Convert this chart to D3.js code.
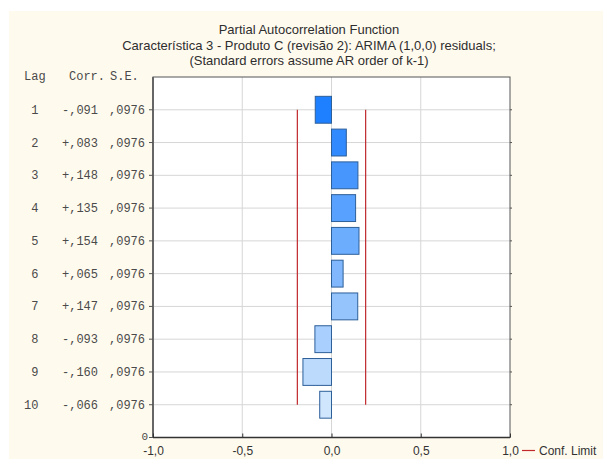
<!DOCTYPE html>
<html>
<head>
<meta charset="utf-8">
<script src="https://cdn.jsdelivr.net/npm/d3@7"></script>
<style>
  html, body { margin: 0; padding: 0; background: #ffffff; }
  svg { display: block; }
</style>
</head>
<body>
<svg id="chart" width="603" height="459"></svg>
<script>
// Partial autocorrelations of the ARIMA (1,0,0) residuals
const lags = [1, 2, 3, 4, 5, 6, 7, 8, 9, 10];
const corr = [-0.091, 0.083, 0.148, 0.135, 0.154, 0.065, 0.147, -0.093, -0.160, -0.066];
const stdErr = [0.0976, 0.0976, 0.0976, 0.0976, 0.0976, 0.0976, 0.0976, 0.0976, 0.0976, 0.0976];
const xTicks = [-1.0, -0.5, 0.0, 0.5, 1.0];
const titleLines = [
  "Partial Autocorrelation Function",
  "Característica 3 - Produto C (revisão 2): ARIMA (1,0,0) residuals;",
  "(Standard errors assume AR order of k-1)"
];
const confZ = 1.96;

const svg = d3.select("#chart");
const panel = { left: 9, top: 11, right: 603, bottom: 459 };
const plot = { left: 153, right: 510, top: 77, bottom: 437.5 };

const x = d3.scaleLinear().domain([-1, 1]).range([plot.left, plot.right]);
const y = d3.scaleLinear().domain([0, lags.length + 1]).range([plot.top, plot.bottom]);
const step = y(1) - y(0);
const barH = step * 0.82;
const fillColor = d3.scaleLinear().domain([0, lags.length - 1])
  .range(["#1e7fff", "#d0e6fc"]).interpolate(d3.interpolateRgb);

const sans = "'Liberation Sans', Arial, sans-serif";
const mono = "'Liberation Mono', 'Courier New', monospace";

// cream panel
svg.append("rect").attr("x", panel.left).attr("y", panel.top)
  .attr("width", panel.right - panel.left).attr("height", panel.bottom - panel.top)
  .attr("fill", "#fffaee");

// titles, centred on the panel
svg.append("g").selectAll("text").data(titleLines).join("text")
  .attr("x", 309)
  .attr("y", (d, i) => 34 + i * 15.5)
  .attr("text-anchor", "middle")
  .attr("font-family", sans).attr("font-size", 13).attr("fill", "#2e2e2e")
  .text(d => d);

// plot background
svg.append("rect").attr("x", plot.left).attr("y", plot.top)
  .attr("width", plot.right - plot.left).attr("height", plot.bottom - plot.top)
  .attr("fill", "#ffffff");

// grid
svg.append("g").selectAll("line").data(lags).join("line")
  .attr("x1", plot.left).attr("x2", plot.right)
  .attr("y1", d => y(d)).attr("y2", d => y(d))
  .attr("stroke", "#d6d6d6").attr("stroke-width", 1);
svg.append("g").selectAll("line").data(xTicks.slice(1, -1)).join("line")
  .attr("x1", d => x(d)).attr("x2", d => x(d))
  .attr("y1", plot.top).attr("y2", plot.bottom)
  .attr("stroke", "#d6d6d6").attr("stroke-width", 1);

// confidence limits
const conf = confZ * stdErr[0];
svg.append("g").selectAll("line").data([-conf, conf]).join("line")
  .attr("x1", d => x(d)).attr("x2", d => x(d))
  .attr("y1", y(lags[0])).attr("y2", y(lags[lags.length - 1]))
  .attr("stroke", "#c0282c").attr("stroke-width", 1.2);

// bars
svg.append("g").selectAll("rect").data(corr).join("rect")
  .attr("x", d => x(Math.min(0, d)))
  .attr("width", d => Math.abs(x(d) - x(0)))
  .attr("y", (d, i) => y(lags[i]) - barH / 2)
  .attr("height", barH)
  .attr("fill", (d, i) => fillColor(i))
  .attr("stroke", "#2d5f99").attr("stroke-width", 1);

// frame
svg.append("rect").attr("x", plot.left).attr("y", plot.top)
  .attr("width", plot.right - plot.left).attr("height", plot.bottom - plot.top)
  .attr("fill", "none").attr("stroke", "#555").attr("stroke-width", 1);
svg.append("line").attr("x1", plot.left).attr("x2", plot.left)
  .attr("y1", plot.top).attr("y2", plot.bottom).attr("stroke", "#666").attr("stroke-width", 2);
svg.append("line").attr("x1", plot.left).attr("x2", plot.right)
  .attr("y1", plot.bottom).attr("y2", plot.bottom).attr("stroke", "#333").attr("stroke-width", 1.5);

// x axis
const xAxis = d3.axisBottom(x).tickValues(xTicks).tickSize(-4).tickPadding(9)
  .tickFormat(d => d3.format(".1f")(d).replace(".", ",").replace("−", "-"));
const gx = svg.append("g").attr("transform", `translate(0,${plot.bottom})`).call(xAxis);
gx.select(".domain").remove();
gx.selectAll(".tick line").attr("stroke", "#333");
gx.selectAll(".tick text").attr("font-family", sans).attr("font-size", 12).attr("fill", "#333");

// y ticks (left outside, right outside)
const yTickVals = lags.concat([lags.length + 1]);
svg.append("g").selectAll("line").data(yTickVals).join("line")
  .attr("x1", plot.left - 4).attr("x2", plot.left)
  .attr("y1", d => y(d)).attr("y2", d => y(d)).attr("stroke", "#555");
svg.append("g").selectAll("line").data(lags).join("line")
  .attr("x1", plot.right).attr("x2", plot.right + 2)
  .attr("y1", d => y(d)).attr("y2", d => y(d)).attr("stroke", "#555");

// lag table as y tick labels
const fmtCorr = v => (v < 0 ? "-" : "+") + Math.abs(v).toFixed(3).replace(/^0\./, ",");
const fmtSE = v => v.toFixed(4).replace(/^0\./, ",");
const table = svg.append("g").attr("font-family", mono).attr("font-size", 12).attr("fill", "#4a4a4a");
table.append("text").attr("x", 24).attr("y", 80).text("Lag");
table.append("text").attr("x", 69).attr("y", 80).text("Corr.");
table.append("text").attr("x", 110).attr("y", 80).text("S.E.");
const rows = table.selectAll("g.row").data(lags).join("g").attr("class", "row")
  .attr("transform", d => `translate(0,${y(d) + 4})`);
rows.append("text").attr("x", 38.5).attr("text-anchor", "end").text(d => d);
rows.append("text").attr("x", 62).text((d, i) => fmtCorr(corr[i]));
rows.append("text").attr("x", 109).text((d, i) => fmtSE(stdErr[i]));
table.append("text").attr("x", 148).attr("y", plot.bottom + 2).attr("text-anchor", "end")
  .attr("font-size", 11).text("0");

// legend
const ly = plot.bottom + 13;
svg.append("line").attr("x1", 522).attr("x2", 535).attr("y1", ly).attr("y2", ly)
  .attr("stroke", "#c0282c").attr("stroke-width", 1.2);
svg.append("text").attr("x", 539).attr("y", ly + 4)
  .attr("font-family", sans).attr("font-size", 12).attr("fill", "#333")
  .text("Conf. Limit");
</script>
</body>
</html>
